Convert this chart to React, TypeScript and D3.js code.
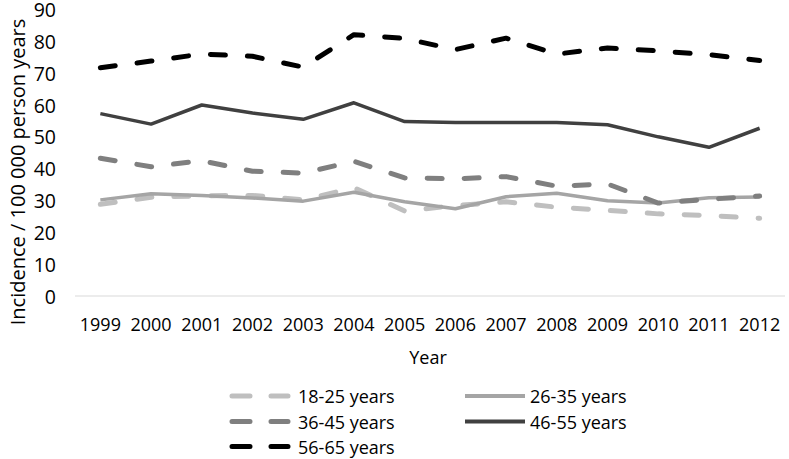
import React from 'react';
import * as d3 from 'd3';

const years = ['1999', '2000', '2001', '2002', '2003', '2004', '2005', '2006', '2007', '2008', '2009', '2010', '2011', '2012'];

const age18to25 = [28.8, 31, 31.5, 31.6, 30.2, 34, 26.7, 28.4, 29.6, 27.9, 26.9, 25.8, 25.3, 24.4];
const age26to35 = [30.2, 32.1, 31.6, 30.8, 29.8, 32.6, 29.6, 27.4, 31.2, 32.3, 29.9, 29.2, 30.9, 31.1];
const age36to45 = [43.3, 40.6, 42.5, 39.2, 38.6, 42.3, 37.1, 36.8, 37.5, 34.5, 35.2, 29.2, 30.4, 31.4];
const age46to55 = [57.3, 54, 60, 57.5, 55.5, 60.7, 54.8, 54.5, 54.5, 54.5, 53.8, 50, 46.7, 52.7];
const age56to65 = [71.7, 73.8, 76, 75.3, 71.9, 82.1, 80.9, 77.4, 81, 76, 77.9, 77, 75.8, 74];

const yTicks = [0, 10, 20, 30, 40, 50, 60, 70, 80, 90];

const series = [
  { name: '18-25 years', values: age18to25, color: '#bfbfbf', width: 5, dashed: true },
  { name: '26-35 years', values: age26to35, color: '#a5a5a5', width: 3.5, dashed: false },
  { name: '36-45 years', values: age36to45, color: '#7f7f7f', width: 5, dashed: true },
  { name: '46-55 years', values: age46to55, color: '#404040', width: 3.5, dashed: false },
  { name: '56-65 years', values: age56to65, color: '#000000', width: 5, dashed: true },
];

const W = 789;
const H = 459;
const FONT = '"Open Sans", "Noto Sans", sans-serif';

export default function App() {
  const x = d3.scaleBand().domain(years).range([75, 785]).padding(0);
  const y = d3.scaleLinear().domain([0, 90]).range([296, 9.5]);
  const cx = (yr: string) => (x(yr) as number) + x.bandwidth() / 2;

  const line = d3
    .line<number>()
    .x((_, i) => cx(years[i]))
    .y((v) => y(v));

  // legend: two columns, three rows
  const legendCol = [232, 465];
  const legendRow = [396, 421.5, 446.5];

  return (
    <svg
      width={W}
      height={H}
      style={{ position: 'fixed', left: 0, top: 0, background: '#fff' }}
      fontFamily={FONT}
    >
      <rect width={W} height={H} fill="#fff" />

      {/* y tick labels */}
      {yTicks.map((t) => (
        <text key={t} x={56} y={y(t)} textAnchor="end" dominantBaseline="central" fontSize={19.5} fill="#000">
          {t}
        </text>
      ))}

      {/* baseline */}
      <line x1={75} x2={785} y1={y(0)} y2={y(0)} stroke="#d9d9d9" strokeWidth={1} />

      {/* x tick labels */}
      {years.map((yr) => (
        <text key={yr} x={cx(yr)} y={324} textAnchor="middle" dominantBaseline="central" fontSize={18} fill="#000">
          {yr}
        </text>
      ))}

      {/* axis titles */}
      <text x={428} y={357} textAnchor="middle" dominantBaseline="central" fontSize={18} fill="#000">
        Year
      </text>
      <text
        transform="translate(17,172) rotate(-90)"
        textAnchor="middle"
        dominantBaseline="central"
        fontSize={20}
        fill="#000"
      >
        Incidence / 100 000 person years
      </text>

      {/* series */}
      {series.map((s) => (
        <path
          key={s.name}
          d={line(s.values) || ''}
          fill="none"
          stroke={s.color}
          strokeWidth={s.width}
          strokeDasharray={s.dashed ? '15 22' : undefined}
          strokeLinecap={s.dashed ? 'round' : 'butt'}
          strokeLinejoin="round"
        />
      ))}

      {/* legend */}
      {series.map((s, i) => {
        const lx = legendCol[i % 2];
        const ly = legendRow[Math.floor(i / 2)];
        return (
          <g key={s.name}>
            {s.dashed ? (
              <line
                x1={lx}
                x2={lx + 56}
                y1={ly}
                y2={ly}
                stroke={s.color}
                strokeWidth={5}
                strokeLinecap="round"
                strokeDasharray="18 21"
              />
            ) : (
              <line x1={lx} x2={lx + 60} y1={ly} y2={ly} stroke={s.color} strokeWidth={4} />
            )}
            <text
              x={s.dashed ? lx + 66 : lx + 65}
              y={ly}
              dominantBaseline="central"
              fontSize={18}
              fill="#000"
            >
              {s.name}
            </text>
          </g>
        );
      })}
    </svg>
  );
}
